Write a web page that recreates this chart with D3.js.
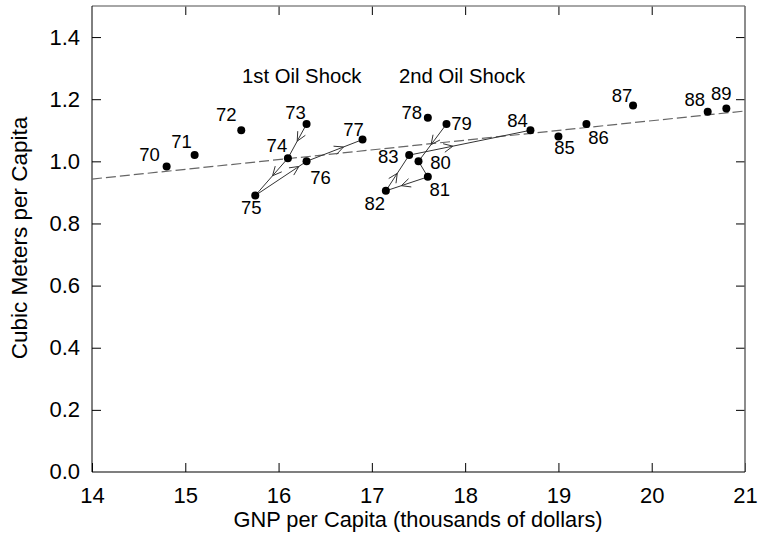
<!DOCTYPE html>
<html lang="en">
<head>
    <meta charset="utf-8">
    <title>Water use vs GNP</title>
    <style>
        body { margin: 0; background: #fff; }
        .chart text { font-family: "Liberation Sans", Arial, sans-serif; fill: #000; }
        .chart .tick line { stroke: #000; stroke-width: 1; }
        .chart .domain { display: none; }
        .chart .trend { fill: none; stroke: #666; stroke-width: 1.2; stroke-dasharray: 10 4; }
        .chart .path { fill: none; stroke: #333; stroke-width: 1; }
        .chart .dot { fill: #000; }
    </style>
</head>
<body>
<div id="chart"></div>
<script src="https://d3js.org/d3.v7.min.js"></script>
<script>
    // data
    var years = [70, 71, 72, 73, 74, 75, 76, 77, 78, 79, 80, 81, 82, 83, 84, 85, 86, 87, 88, 89];
    var gnp = [14.8, 15.1, 15.6, 16.3, 16.1, 15.75, 16.3, 16.9, 17.6, 17.8, 17.5, 17.6, 17.15, 17.4, 18.7, 19.0, 19.3, 19.8, 20.6, 20.8];
    var water = [0.983, 1.02, 1.10, 1.12, 1.01, 0.89, 1.00, 1.07, 1.14, 1.12, 1.00, 0.95, 0.905, 1.02, 1.10, 1.08, 1.12, 1.18, 1.16, 1.17];
    var trendX = [14, 21];
    var trendY = [0.943, 1.162];
    var shock1 = [73, 74, 75, 76, 77];
    var shock2 = [79, 80, 81, 82, 83, 84];
    var xTicks = [14, 15, 16, 17, 18, 19, 20, 21];
    var yTicks = [0, 0.2, 0.4, 0.6, 0.8, 1.0, 1.2, 1.4];

    // label placement (px offsets from the dot) and arrowhead positions along segments
    var labelOffsets = {
        70: [-17, -6], 71: [-13, -7], 72: [-15, -9], 73: [-11, -5], 74: [-11, -6],
        75: [-4, 18], 76: [14, 23], 77: [-9, -4], 78: [-16, 1], 79: [15, 6],
        80: [22, 8], 81: [12, 19], 82: [-11, 19], 83: [-21, 8], 84: [-13, -3],
        85: [6, 18], 86: [12, 20], 87: [-11, -3], 88: [-13, -6], 89: [-5, -9]
    };
    var arrowAt1 = [0.5, 0.47, 0.85, 0.66];
    var arrowAt2 = [0.55, null, 0.63, 0.49, 0.36];

    var width = 758, height = 543;
    var margin = {top: 6, right: 13, bottom: 71, left: 92};

    var svg = d3.select("#chart").append("svg")
        .attr("class", "chart")
        .attr("width", width)
        .attr("height", height);

    var x = d3.scaleLinear().domain([14, 21]).range([margin.left, width - margin.right]);
    var y = d3.scaleLinear().domain([0, 1.5]).range([height - margin.bottom, margin.top]);

    var fmt = d3.format(".1f");

    svg.append("g")
        .attr("transform", "translate(0," + y(0) + ")")
        .call(d3.axisBottom(x).tickValues(xTicks).tickSize(-9).tickPadding(15).tickFormat(d3.format("d")));
    svg.append("g")
        .attr("transform", "translate(0," + y(1.5) + ")")
        .call(d3.axisTop(x).tickValues(xTicks.slice(1, -1)).tickSize(-9).tickFormat(""));
    svg.append("g")
        .attr("transform", "translate(" + x(14) + ",0)")
        .call(d3.axisLeft(y).tickValues(yTicks.slice(1)).tickSize(-9).tickPadding(12).tickFormat(fmt));
    svg.append("g")
        .attr("transform", "translate(" + x(21) + ",0)")
        .call(d3.axisRight(y).tickValues(yTicks.slice(1)).tickSize(-9).tickFormat(""));

    // 0.0 label sits at the corner, no tick mark
    svg.append("text")
        .attr("x", x(14) - 12).attr("y", y(0)).attr("dy", "0.32em")
        .attr("text-anchor", "end")
        .style("font-size", "22px")
        .text(fmt(0));
    svg.selectAll(".tick text").style("font-size", "22px");

    // frame
    svg.append("line").attr("x1", x(14)).attr("x2", x(21)).attr("y1", y(1.5)).attr("y2", y(1.5))
        .attr("stroke", "#888").attr("stroke-width", 1.5);
    svg.append("line").attr("x1", x(21)).attr("x2", x(21)).attr("y1", y(1.5)).attr("y2", y(0))
        .attr("stroke", "#666").attr("stroke-width", 1.5);
    svg.append("line").attr("x1", x(14)).attr("x2", x(14)).attr("y1", y(1.5)).attr("y2", y(0))
        .attr("stroke", "#000").attr("stroke-width", 1);
    svg.append("line").attr("x1", x(14)).attr("x2", x(21)).attr("y1", y(0)).attr("y2", y(0))
        .attr("stroke", "#000").attr("stroke-width", 1.2);

    // regression line
    svg.append("path")
        .attr("class", "trend")
        .attr("d", d3.line().x(function (d) { return x(d); }).y(function (d, i) { return y(trendY[i]); })(trendX));

    var idx = function (yr) { return years.indexOf(yr); };

    function drawPath(list, arrowAt) {
        var pts = list.map(function (yr) { return [x(gnp[idx(yr)]), y(water[idx(yr)])]; });
        svg.append("path").attr("class", "path").attr("d", d3.line()(pts));
        for (var i = 0; i < pts.length - 1; i++) {
            if (arrowAt[i] == null) continue;
            var a = pts[i], b = pts[i + 1];
            var t = arrowAt[i];
            var tx = a[0] + (b[0] - a[0]) * t, ty = a[1] + (b[1] - a[1]) * t;
            var ang = Math.atan2(b[1] - a[1], b[0] - a[0]);
            var len = 10, spread = Math.PI / 7;
            var p1 = [tx - len * Math.cos(ang - spread), ty - len * Math.sin(ang - spread)];
            var p2 = [tx - len * Math.cos(ang + spread), ty - len * Math.sin(ang + spread)];
            svg.append("path").attr("class", "path").attr("d", d3.line()([p1, [tx, ty], p2]));
        }
    }
    drawPath(shock1, arrowAt1);
    drawPath(shock2, arrowAt2);

    svg.selectAll(".dot")
        .data(years)
        .enter().append("circle")
        .attr("class", "dot")
        .attr("r", 4)
        .attr("cx", function (d, i) { return x(gnp[i]); })
        .attr("cy", function (d, i) { return y(water[i]); });

    svg.selectAll(".lbl")
        .data(years)
        .enter().append("text")
        .attr("class", "lbl")
        .attr("text-anchor", "middle")
        .style("font-size", "18.5px")
        .attr("x", function (d, i) { return x(gnp[i]) + labelOffsets[d][0]; })
        .attr("y", function (d, i) { return y(water[i]) + labelOffsets[d][1]; })
        .text(function (d) { return d; });

    svg.append("text").attr("x", 242).attr("y", 83).style("font-size", "20.3px").text("1st Oil Shock");
    svg.append("text").attr("x", 399).attr("y", 83).style("font-size", "20.3px").text("2nd Oil Shock");

    svg.append("text")
        .attr("x", 418).attr("y", 527)
        .attr("text-anchor", "middle")
        .style("font-size", "21.8px")
        .text("GNP per Capita (thousands of dollars)");
    svg.append("text")
        .attr("transform", "translate(27," + 238 + ") rotate(-90)")
        .attr("text-anchor", "middle")
        .style("font-size", "22.5px")
        .text("Cubic Meters per Capita");
</script>
</body>
</html>
